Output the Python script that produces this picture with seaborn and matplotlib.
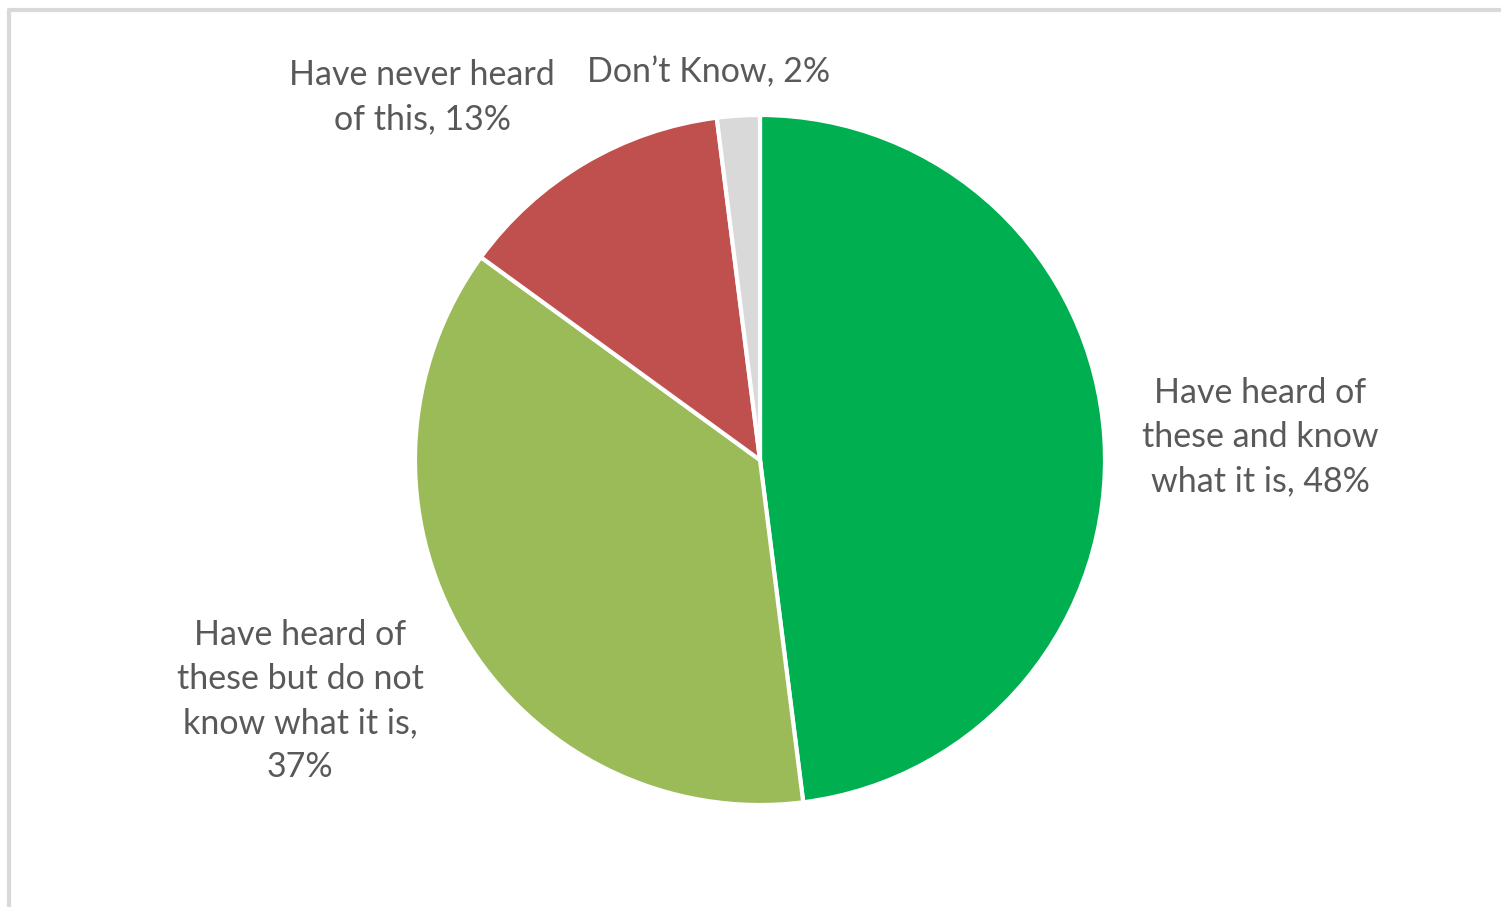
import matplotlib
matplotlib.use("Agg")
import matplotlib.pyplot as plt
from matplotlib.lines import Line2D
import seaborn as sns

# data
labels = ["Have heard of\nthese and know\nwhat it is, 48%",
          "Have heard of\nthese but do not\nknow what it is,\n37%",
          "Have never heard\nof this, 13%",
          "Don\u2019t Know, 2%"]
values = [48, 37, 13, 2]
colors = ["#00b050", "#9bbb59", "#c0504d", "#d9d9d9"]
# label centres in pixel space (x, y from top)
label_pos = [(1260, 437), (300, 701), (422, 97), (709, 72)]

sns.set_theme(style="white")
plt.rcParams['font.family'] = ['Lato', 'DejaVu Sans']

W, H = 1501, 907
fig = plt.figure(figsize=(W / 100, H / 100), dpi=100)
ax = fig.add_axes([0, 0, 1, 1])

ax.pie(values, colors=colors, startangle=90, counterclock=False,
       center=(760, H - 460), radius=345,
       wedgeprops=dict(edgecolor="white", linewidth=3))
ax.set_xlim(0, W)
ax.set_ylim(0, H)
ax.set_aspect("equal")
ax.axis("off")

for lab, (x, y) in zip(labels, label_pos):
    ax.text(x, H - y, lab, ha="center", va="center", fontsize=24.5,
            color="#595959", linespacing=1.47)

# light frame (top and left edges visible in reference)
fig.add_artist(Line2D([9 / W, 1], [1 - 10 / H, 1 - 10 / H], transform=fig.transFigure,
                      color="#d9d9d9", linewidth=3))
fig.add_artist(Line2D([9 / W, 9 / W], [0, 1 - 10 / H], transform=fig.transFigure,
                      color="#d9d9d9", linewidth=3))

fig.savefig("out.png", dpi=100, facecolor="white")
